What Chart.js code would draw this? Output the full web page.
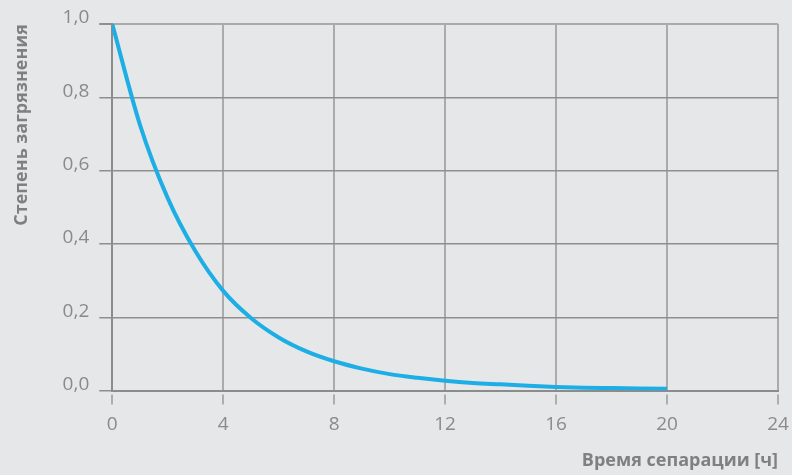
<!DOCTYPE html>
<html>
<head>
<meta charset="utf-8">
<script src="https://cdn.jsdelivr.net/npm/chart.js@4"></script>
<style>
  html, body { margin: 0; padding: 0; background: #e6e7e9; }
  #wrap { width: 792px; height: 475px; position: relative; }
</style>
</head>
<body>
<div id="wrap"><canvas id="myChart"></canvas></div>
<script>
// time of separation [h]
const hours = [0, 1, 2, 3, 4, 5, 6, 7, 8, 9, 10, 11, 12, 13, 14, 15, 16, 17, 18, 19, 20];
// degree of contamination
const contamination = [1.000, 0.725, 0.525, 0.380, 0.272, 0.198, 0.145, 0.107, 0.080, 0.060,
    0.045, 0.035, 0.027, 0.021, 0.017, 0.013, 0.010, 0.008, 0.007, 0.006, 0.005];
const xTicks = [0, 4, 8, 12, 16, 20, 24];
const yTicks = [0, 0.2, 0.4, 0.6, 0.8, 1.0];

const labelColor = '#8a8a8a';

// short tick marks under the x axis, with a small gap
const xTickMarks = {
    id: 'xTickMarks',
    afterDraw(chart) {
        const ctx = chart.ctx;
        const xs = chart.scales.x;
        const bottom = chart.chartArea.bottom;
        ctx.save();
        ctx.strokeStyle = '#9a9a9a';
        ctx.lineWidth = 1.5;
        xTicks.forEach(v => {
            const px = Math.round(xs.getPixelForValue(v));
            ctx.beginPath();
            ctx.moveTo(px, bottom + 4);
            ctx.lineTo(px, bottom + 14);
            ctx.stroke();
        });
        ctx.restore();
    }
};

const ctx = document.getElementById('myChart').getContext('2d');
const myChart = new Chart(ctx, {
    type: 'line',
    data: {
        datasets: [{
            data: hours.map((h, i) => ({ x: h, y: contamination[i] })),
            borderColor: '#1eaee6',
            borderWidth: 4,
            pointRadius: 0,
            cubicInterpolationMode: 'monotone',
            fill: false
        }]
    },
    options: {
        responsive: true,
        maintainAspectRatio: false,
        animation: false,
        layout: { padding: { top: 24, right: 14, left: 11, bottom: 3 } },
        plugins: {
            legend: { display: false },
            tooltip: { enabled: false }
        },
        scales: {
            x: {
                type: 'linear',
                min: 0,
                max: 24,
                afterBuildTicks: s => { s.ticks = xTicks.map(v => ({ value: v })); },
                afterFit: s => { s.paddingRight = 0; },
                grid: {
                    color: '#ababab',
                    lineWidth: 2,
                    drawTicks: true,
                    tickLength: 14,
                    tickColor: 'rgba(0,0,0,0)'
                },
                border: { color: '#8c8c8c', width: 2 },
                ticks: {
                    color: labelColor,
                    font: { family: 'Open Sans', size: 19 },
                    padding: 9,
                    maxRotation: 0
                },
                title: {
                    display: true,
                    text: 'Время сепарации [ч]',
                    align: 'end',
                    color: '#808080',
                    font: { family: 'Open Sans', size: 18, weight: 'bold' },
                    padding: { top: 5, bottom: 0 }
                }
            },
            y: {
                min: 0,
                max: 1,
                afterBuildTicks: s => { s.ticks = yTicks.map(v => ({ value: v })); },
                grid: {
                    color: c => c.tick && c.tick.value === 1 ? '#ababab' : '#8f8f8f',
                    lineWidth: c => c.tick && c.tick.value === 1 ? 2 : 1.5,
                    tickLength: 13,
                    tickColor: '#8f8f8f'
                },
                border: { color: '#8c8c8c', width: 2 },
                ticks: {
                    color: labelColor,
                    font: { family: 'Open Sans', size: 19 },
                    padding: 10,
                    labelOffset: -6,
                    callback: v => v.toFixed(1).replace('.', ',')
                },
                title: {
                    display: true,
                    text: 'Степень загрязнения',
                    align: 'end',
                    color: '#808080',
                    font: { family: 'Open Sans', size: 18, weight: 'bold' },
                    padding: { top: 0, bottom: 20 }
                }
            }
        }
    },
    plugins: [xTickMarks]
});
</script>
</body>
</html>
